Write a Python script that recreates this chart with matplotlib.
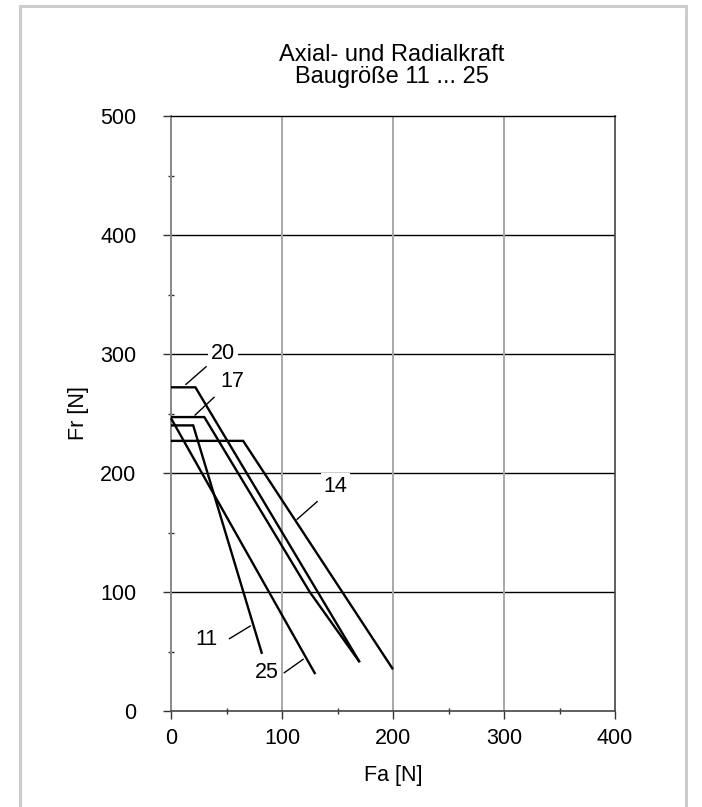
import matplotlib
matplotlib.use("Agg")
import matplotlib.pyplot as plt
from matplotlib.patches import Rectangle
from matplotlib.ticker import MultipleLocator

plt.rcParams['font.family'] = ['Liberation Sans', 'DejaVu Sans']

# Permissible radial force Fr versus axial force Fa, per frame size
sizes = ["11", "14", "17", "20", "25"]
fa_11 = [0, 20, 82]
fr_11 = [240, 240, 48]
fa_14 = [0, 65, 200]
fr_14 = [227, 227, 35]
fa_17 = [0, 30, 125, 170]
fr_17 = [247, 247, 100, 41]
fa_20 = [0, 22, 170]
fr_20 = [272, 272, 41]
fa_25 = [0, 130]
fr_25 = [246, 31]

# Curve labels: text position and leader line (Fa, Fr)
label_text = ["20", "17", "14", "11", "25"]
label_pos = [(47, 300.5), (55, 277), (148, 189), (32, 60), (86, 32)]
leader_start = [(13.5, 274.5), (21.7, 248.7), (113.6, 161.1), (52.7, 60.8), (102.1, 32.2)]
leader_end = [(31.6, 289.3), (38.8, 263.6), (131.6, 175.9), (71.4, 71.4), (119.0, 43.4)]

x_ticks = [0, 100, 200, 300, 400]
y_ticks = [0, 100, 200, 300, 400, 500]

FS = 15.5

fig = plt.figure(figsize=(7.02, 8.07), dpi=100)
ax = fig.add_axes([171 / 702, 1 - 711 / 807, 444 / 702, 595 / 807])

ax.set_xlim(0, 400)
ax.set_ylim(0, 500)
ax.set_xticks(x_ticks)
ax.set_yticks(y_ticks)
ax.xaxis.set_minor_locator(MultipleLocator(50))
ax.yaxis.set_minor_locator(MultipleLocator(50))
ax.tick_params(axis='both', which='major', direction='out', length=6, width=1,
               color='#333333', labelsize=FS)
ax.tick_params(axis='y', which='major', pad=19)
ax.tick_params(axis='x', which='major', pad=6)
ax.tick_params(axis='both', which='minor', direction='inout', length=5, width=1,
               color='#333333')

# grid: black horizontal lines, grey vertical lines
for y in y_ticks[1:-1]:
    ax.axhline(y, color='black', lw=1.0, zorder=1)
for x in x_ticks[1:-1]:
    ax.axvline(x, color='#a8a8a8', lw=1.4, zorder=1)

ax.spines['left'].set_color('#888888')
ax.spines['left'].set_linewidth(1.4)
ax.spines['bottom'].set_color('#444444')
ax.spines['bottom'].set_linewidth(1.2)
ax.spines['top'].set_color('black')
ax.spines['top'].set_linewidth(1.0)
ax.spines['right'].set_color('#444444')
ax.spines['right'].set_linewidth(1.2)

curves = [(fa_11, fr_11), (fa_14, fr_14), (fa_17, fr_17), (fa_20, fr_20), (fa_25, fr_25)]
for fa, fr in curves:
    ax.plot(fa, fr, color='black', lw=1.7, solid_joinstyle='miter',
            solid_capstyle='butt', zorder=3, clip_on=False)

for txt, pos, p0, p1 in zip(label_text, label_pos, leader_start, leader_end):
    ax.plot([p0[0], p1[0]], [p0[1], p1[1]], color='black', lw=1.0, zorder=3)
    ax.text(pos[0], pos[1], txt, ha='center', va='center', fontsize=FS, zorder=2,
            bbox=dict(facecolor='white', edgecolor='none', pad=2))

ax.set_xlabel("Fa [N]", fontsize=FS, labelpad=12)
ax.set_ylabel("Fr [N]", fontsize=FS)
ax.yaxis.set_label_coords(-0.185, 0.5)

fig.text(392 / 702, 1 - 61 / 807, "Axial- und Radialkraft", ha='center', va='baseline', fontsize=17)
fig.text(392 / 702, 1 - 83 / 807, "Baugröße 11 ... 25", ha='center', va='baseline', fontsize=17)

# outer frame
fig.patches.append(Rectangle((20 / 702, -0.05), 666 / 702, 1.05 - 6 / 807,
                             transform=fig.transFigure, fill=False,
                             edgecolor='#cccccc', lw=2.2))

fig.savefig("out.png", dpi=100)
